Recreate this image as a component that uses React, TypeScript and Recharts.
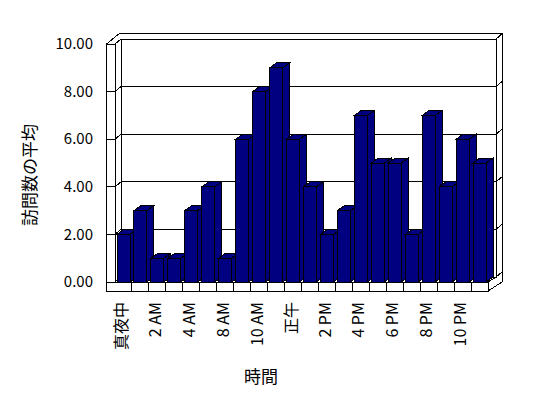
import { BarChart, Bar, XAxis, YAxis, CartesianGrid, ReferenceArea } from 'recharts'

const hours = [
  '真夜中', '1 AM', '2 AM', '3 AM', '4 AM', '6 AM', '8 AM', '9 AM', '10 AM', '11 AM', '正午',
  '1 PM', '2 PM', '3 PM', '4 PM', '5 PM', '6 PM', '7 PM', '8 PM', '9 PM', '10 PM', '11 PM',
]
const visits = [2, 3, 1, 1, 3, 4, 1, 6, 8, 9, 6, 4, 2, 3, 7, 5, 5, 2, 7, 4, 6, 5]
const yTicks = [0, 2, 4, 6, 8, 10]

const data = hours.map((h, i) => ({ hour: h, visits: visits[i] }))

const NAVY = '#000080'
const FONT = '"Noto Sans CJK JP", "Noto Sans", sans-serif'
// fake 3D: bar depth, wall depth, left wall thickness
const DX = 7
const DY = -5
const WDX = 6
const WDY = -5
const WALL = 8.5

const Bar3D = (props: any) => {
  const { x, y, width, height } = props
  if (!height) return null
  const r = x + width
  const b = y + height
  return (
    <g stroke="#000" strokeWidth={1} fill={NAVY}>
      <path d={`M${r},${y}L${r + DX},${y + DY}V${b + DY}L${r},${b}Z`} />
      <path d={`M${x},${y}L${x + DX},${y + DY}H${r + DX}L${r},${y}Z`} />
      <rect x={x} y={y} width={width} height={height} />
    </g>
  )
}

// gridline runs across the left wall, up onto the back wall and off the right edge
const GridLine = (p: any) => {
  const { x1, x2, y1 } = p
  return (
    <path
      key={`g-${y1}`}
      d={`M${x1 - WALL},${y1}H${x1}L${x1 + WDX},${y1 + WDY}H${x2 + 8}L${x2 + 14},${y1 + 2 * WDY}`}
      fill="none"
      stroke="#000"
    />
  )
}

const Walls = (p: any) => {
  const { x, y, width, height } = p
  const x1 = x + width
  const y1 = y + height
  const step = width / hours.length
  return (
    <g fill="none" stroke="#000" strokeWidth={1}>
      {/* back wall */}
      <rect x={x + WDX} y={y + WDY} width={width + 2} height={height} />
      {/* outer edges */}
      <path d={`M${x - WALL},${y}L${x + 5},${y - 11}H${x1 + 14}V${y1}L${x1},${y1 + 9}`} />
      <path d={`M${x - WALL},${y}V${y1 + 9}H${x1}V${y1}`} />
      <path d={`M${x},${y}L${x + WDX},${y + WDY}`} />
      <path d={`M${x},${y}V${y1}H${x1}L${x1 + 8},${y1 + WDY}`} />
      <path d={`M${x1 + 8},${y + WDY}L${x1 + 14},${y - 11}`} />
      {/* floor cells */}
      {hours.slice(1).map((_, i) => (
        <line key={i} x1={x + step * (i + 1)} x2={x + step * (i + 1)} y1={y1} y2={y1 + 9} />
      ))}
    </g>
  )
}

const YTick = ({ x, y, payload }: any) => (
  <text x={x - 22} y={y} dy="0.35em" textAnchor="end" fontSize={15} fontFamily={FONT} fill="#000">
    {Number(payload.value).toFixed(2)}
  </text>
)

const XTick = ({ x, y, payload }: any) => (
  <text
    transform={`translate(${x - 2},${y + 20}) rotate(-90)`}
    dy="0.35em"
    textAnchor="end"
    fontSize={16}
    fontFamily={FONT}
    fill="#000"
  >
    {payload.value}
  </text>
)

const YTitle = ({ viewBox }: any) => (
  <text
    transform={`translate(${viewBox.x + 30},${viewBox.y + viewBox.height / 2 + 12}) rotate(-90)`}
    dy="0.35em"
    textAnchor="middle"
    fontSize={17}
    fontFamily={FONT}
    fill="#000"
  >
    訪問数の平均
  </text>
)

const XTitle = ({ viewBox }: any) => (
  <text x={viewBox.x + 146} y={viewBox.y + 95} dy="0.35em" textAnchor="middle" fontSize={17} fontFamily={FONT} fill="#000">
    時間
  </text>
)

export default function App() {
  return (
    <div style={{ position: 'absolute', left: 0, top: 0, width: 548, height: 398, background: '#fff' }}>
      <BarChart
        width={548}
        height={398}
        data={data}
        margin={{ top: 44, right: 60, bottom: 56, left: 0 }}
        barSize={13}
        style={{ shapeRendering: 'crispEdges' }}
      >
        <ReferenceArea y1={0} y2={10} shape={<Walls />} fill="none" ifOverflow="visible" />
        <CartesianGrid vertical={false} horizontal={GridLine as any} />
        <XAxis
          dataKey="hour"
          interval={1}
          axisLine={false}
          tickLine={false}
          tickSize={0}
          tickMargin={0}
          height={60}
          tick={<XTick />}
          label={<XTitle />}
        />
        <YAxis
          type="number"
          domain={[0, 10]}
          ticks={yTicks}
          width={115}
          axisLine={false}
          tickLine={false}
          tickSize={0}
          tickMargin={0}
          tick={<YTick />}
          label={<YTitle />}
        />
        <Bar dataKey="visits" fill={NAVY} shape={<Bar3D />} isAnimationActive={false} />
      </BarChart>
    </div>
  )
}
